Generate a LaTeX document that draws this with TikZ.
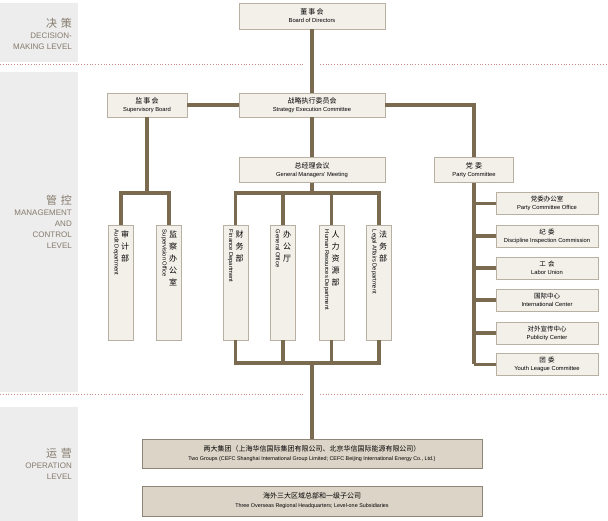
\documentclass[tikz,border=0pt]{standalone}
\usepackage{fontspec}
\setmainfont{Liberation Sans}
\newfontfamily\zhfont{Noto Sans CJK SC}
\usetikzlibrary{positioning}
\definecolor{linebrown}{HTML}{7A6A4F}
\definecolor{boxfill}{HTML}{F3F0EA}
\definecolor{boxdraw}{HTML}{B8B0A2}
\definecolor{opfill}{HTML}{DCD4C7}
\definecolor{opdraw}{HTML}{8E8579}
\definecolor{bandgrey}{HTML}{EDEDED}
\definecolor{labelgrey}{HTML}{857A6C}
\definecolor{dotred}{HTML}{D08A8A}

\begin{document}
\begin{tikzpicture}[x=1pt, y=-1pt,
        hbox/.style={draw=boxdraw, fill=boxfill, align=center, inner sep=0pt, font=\fontsize{5.8}{8}\selectfont},
        vbox/.style={draw=boxdraw, fill=boxfill, minimum width=25pt, minimum height=115pt, inner sep=0pt},
        opbox/.style={draw=opdraw, fill=opfill, align=center, inner sep=0pt, minimum width=340pt, font=\fontsize{5.4}{9}\selectfont},
        zhv/.style={anchor=north, align=center, inner sep=0pt, font=\zhfont\fontsize{8}{12}\selectfont},
        env/.style={anchor=west, rotate=-90, inner sep=0pt, font=\fontsize{5.8}{7}\selectfont},
        level/.style={anchor=east, align=right, text=labelgrey, inner sep=0pt, font=\fontsize{8}{11}\selectfont}
    ]

    %styles
    \tikzstyle{link}=[draw=linebrown, line width=3.2pt]
    \tikzstyle{sep}=[draw=dotred, dotted, line width=0.8pt]

    \useasboundingbox (0,0) rectangle (608,521);

    %bands
    \fill[bandgrey] (0,3) rectangle (78,62);
    \fill[bandgrey] (0,72) rectangle (78,392);
    \fill[bandgrey] (0,407) rectangle (78,521);
    \draw[sep] (0,64) -- (304,64);
    \draw[sep] (320,64) -- (608,64);
    \draw[sep] (0,394) -- (304,394);
    \draw[sep] (320,394) -- (608,394);

    \node[level] (lv1) at (72,34) {{\zhfont\fontsize{11}{14}\selectfont 决\,\,策}\\DECISION-\\MAKING LEVEL};
    \node[level] (lv2) at (72,222) {{\zhfont\fontsize{11}{14}\selectfont 管\,\,控}\\MANAGEMENT\\AND\\CONTROL\\LEVEL};
    \node[level] (lv3) at (72,464) {{\zhfont\fontsize{11}{14}\selectfont 运\,\,营}\\OPERATION\\LEVEL};

    %nodes
    \node[hbox, minimum width=146pt, minimum height=26pt] (board) at (312,16) {{\zhfont\fontsize{7}{10}\selectfont 董\,事\,会}\\Board of Directors};
    \node[hbox, minimum width=146pt, minimum height=24pt] (sec) at (312,105) {{\zhfont\fontsize{7}{10}\selectfont 战略执行委员会}\\Strategy Execution Committee};
    \node[hbox, minimum width=80pt, minimum height=24pt] (sup) at (147,105) {{\zhfont\fontsize{7}{10}\selectfont 监\,事\,会}\\Supervisory Board};
    \node[hbox, minimum width=146pt, minimum height=25pt] (gmm) at (312,170) {{\zhfont\fontsize{7}{10}\selectfont 总经理会议}\\General Managers' Meeting};
    \node[hbox, minimum width=79pt, minimum height=25pt] (party) at (474,170) {{\zhfont\fontsize{7}{10}\selectfont 党\,\,委}\\Party Committee};

    \node[vbox] (aud) at (121,282.5) {};
    \node[vbox] (svo) at (169,282.5) {};
    \node[vbox] (fin) at (235.5,282.5) {};
    \node[vbox] (gen) at (283,282.5) {};
    \node[vbox] (hr) at (331.5,282.5) {};
    \node[vbox] (leg) at (379,282.5) {};

    \node[zhv] (audzh) at ([shift={(4,6)}]aud.north) {审\\计\\部};
    \node[zhv] (svozh) at ([shift={(4,6)}]svo.north) {监\\察\\办\\公\\室};
    \node[zhv] (finzh) at ([shift={(4,6)}]fin.north) {财\\务\\部};
    \node[zhv] (genzh) at ([shift={(4,6)}]gen.north) {办\\公\\厅};
    \node[zhv] (hrzh) at ([shift={(4,6)}]hr.north) {人\\力\\资\\源\\部};
    \node[zhv] (legzh) at ([shift={(4,6)}]leg.north) {法\\务\\部};
    \node[env] (auden) at ([shift={(-5,5)}]aud.north) {Audit Department};
    \node[env] (svoen) at ([shift={(-5,5)}]svo.north) {Supervision Office};
    \node[env] (finen) at ([shift={(-5,5)}]fin.north) {Finance Department};
    \node[env] (genen) at ([shift={(-5,5)}]gen.north) {General Office};
    \node[env] (hren) at ([shift={(-5,5)}]hr.north) {Human Resources Department};
    \node[env] (legen) at ([shift={(-5,5)}]leg.north) {Legal Affairs Department};

    \foreach \name/\y/\zh/\en in {pco/203.5/党委办公室/Party Committee Office,
        dic/236/纪\,\,委/Discipline Inspection Commission,
        lab/268/工\,\,会/Labor Union,
        itc/300/国际中心/International Center,
        pub/333/对外宣传中心/Publicity Center,
        ylc/364.5/团\,\,委/Youth League Committee}
        \node[hbox, minimum width=102pt, minimum height=22pt] (\name) at (547,\y) {{\zhfont\fontsize{6.5}{8.5}\selectfont \zh}\\\en};

    \node[opbox, minimum height=29pt] (grp) at (312,453.5) {{\zhfont\fontsize{7}{11}\selectfont 两大集团（上海华信国际集团有限公司、北京华信国际能源有限公司）}\\Two Groups (CEFC Shanghai International Group Limited; CEFC Beijing International Energy Co., Ltd.)};
    \node[opbox, minimum height=30pt] (sub) at (312,501) {{\zhfont\fontsize{7}{11}\selectfont 海外三大区域总部和一级子公司}\\Three Overseas Regional Headquarters; Level-one Subsidiaries};

    \coordinate (supjoin) at (147,193);
    \coordinate (gmjoin) at (312,193);
    \coordinate (opjoin) at (312,363);

    %lines
    \draw[link] (board) -- (sec);
    \draw[link] (sup) -- (sec);
    \draw[link] (sec) -- (gmm);
    \draw[link] (sec.east) -| (party.north);
    \draw[link] (sup.south) -- (supjoin);
    \draw[link] (aud.north) |- (supjoin) -| (svo.north);
    \draw[link] (gmm.south) -- (gmjoin);
    \draw[link] (fin.north) |- (gmjoin) -| (leg.north);
    \draw[link] (gen.north) -- (gen.north |- gmjoin);
    \draw[link] (hr.north) -- (hr.north |- gmjoin);
    \draw[link] (fin.south) |- (opjoin) -| (leg.south);
    \draw[link] (gen.south) -- (gen.south |- opjoin);
    \draw[link] (hr.south) -- (hr.south |- opjoin);
    \draw[link] (opjoin) -- (grp.north);
    \draw[link] (party.south) -- (party.south |- ylc.west);
    \foreach \name in {pco,dic,lab,itc,pub,ylc}
        \draw[link] (\name.west) -- (\name.west -| party.south);

\end{tikzpicture}
\end{document}
